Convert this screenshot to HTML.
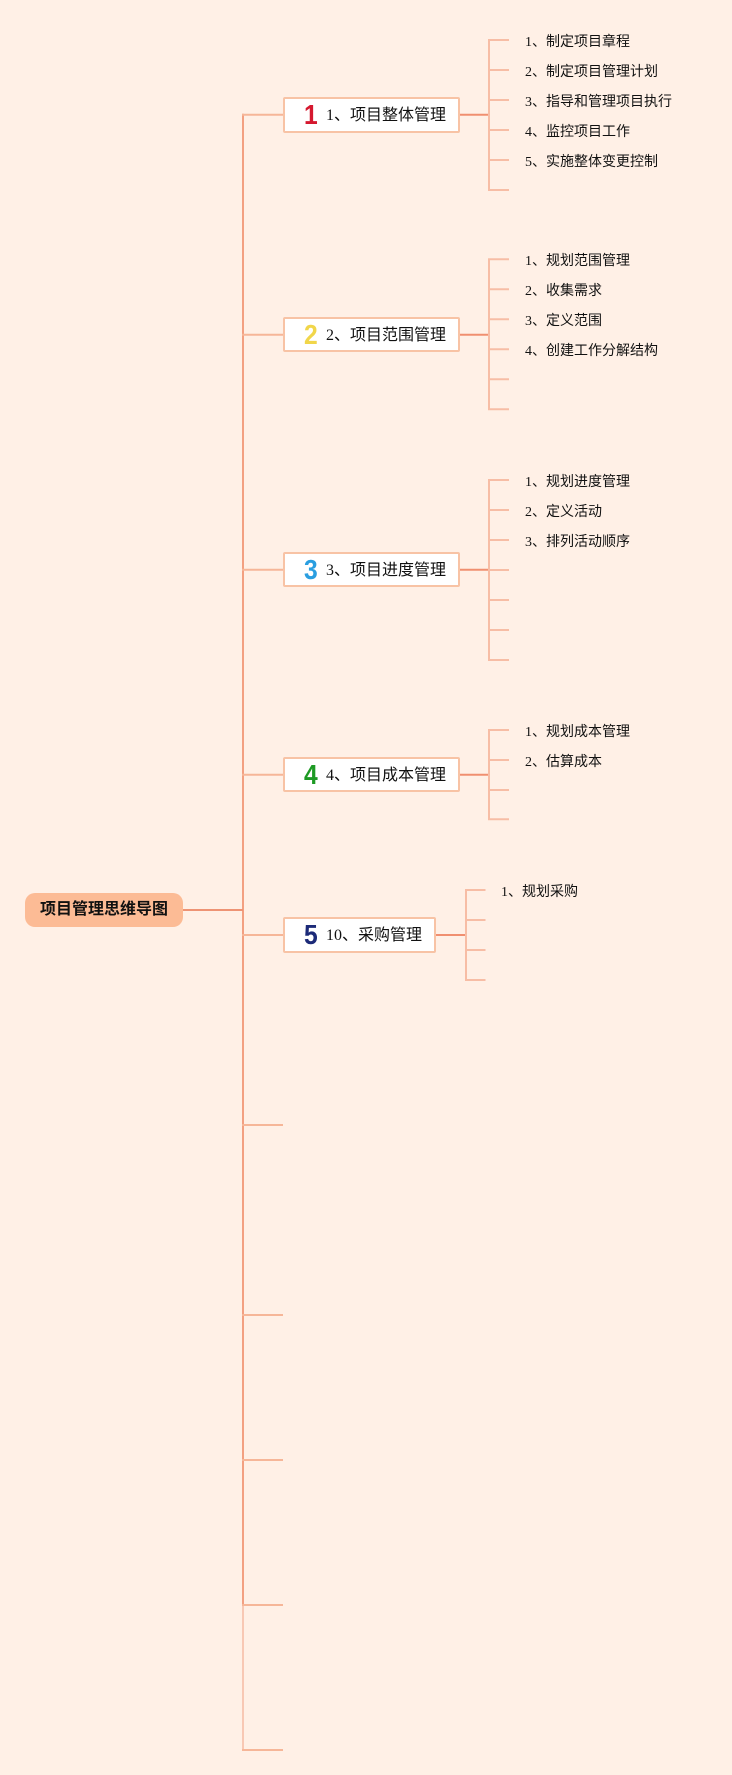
<!DOCTYPE html>
<html>
<head>
<meta charset="utf-8">
<style>
html,body{margin:0;padding:0;}
body{width:732px;height:1775px;background:#fff0e6;position:relative;overflow:hidden;
font-family:"Liberation Serif","Noto Sans CJK SC",sans-serif;}
svg{position:absolute;left:0;top:0;}
.node{position:absolute;left:283px;height:31.4px;background:#fff;border:2px solid #f8c3a5;border-radius:2px;box-sizing:content-box;}
.node .num{position:absolute;left:19px;top:-2px;font-family:"Liberation Sans",sans-serif;font-weight:bold;font-size:28px;line-height:36px;transform:scaleX(0.88);transform-origin:left center;}
.node .t{position:absolute;left:41px;top:0;font-size:16px;line-height:33px;color:#111;white-space:nowrap;}
.c{position:absolute;font-size:14px;line-height:20px;color:#111;white-space:nowrap;}
.root{position:absolute;left:25px;top:893px;width:158px;height:34px;background:#fcbb95;border-radius:10px;
font-family:"Liberation Sans","Noto Sans CJK SC",sans-serif;font-weight:bold;font-size:16px;line-height:34px;text-align:center;color:#111;}
</style>
</head>
<body>
<svg width="732" height="1775" viewBox="0 0 732 1775">
<g fill="none" stroke-linecap="butt">
<line x1="243" y1="113.7" x2="243" y2="1606" stroke="#f3a081" stroke-width="2"/>
<line x1="243" y1="1605" x2="243" y2="1751" stroke="#f7bea7" stroke-width="1.6"/>
<line x1="182" y1="910" x2="243" y2="910" stroke="#ee9374" stroke-width="2"/>
<g stroke="#f6b698" stroke-width="2">
<line x1="242" y1="114.7" x2="283" y2="114.7"/>
<line x1="242" y1="334.7" x2="283" y2="334.7"/>
<line x1="242" y1="569.7" x2="283" y2="569.7"/>
<line x1="242" y1="774.7" x2="283" y2="774.7"/>
<line x1="242" y1="935" x2="283" y2="935"/>
<line x1="242" y1="1125" x2="283" y2="1125"/>
<line x1="242" y1="1315" x2="283" y2="1315"/>
<line x1="242" y1="1460" x2="283" y2="1460"/>
<line x1="242" y1="1605" x2="283" y2="1605"/>
<line x1="242" y1="1750" x2="283" y2="1750"/>
</g>
<g stroke="#f08f70" stroke-width="2">
<line x1="460" y1="114.7" x2="490" y2="114.7"/>
<line x1="460" y1="334.7" x2="490" y2="334.7"/>
<line x1="460" y1="569.7" x2="490" y2="569.7"/>
<line x1="460" y1="774.7" x2="490" y2="774.7"/>
<line x1="436" y1="935" x2="467" y2="935"/>
</g>
<g stroke="#f7bda5" stroke-width="2">
<line x1="489" y1="40" x2="489" y2="190"/>
<line x1="488" y1="40" x2="509" y2="40"/>
<line x1="488" y1="70" x2="509" y2="70"/>
<line x1="488" y1="100" x2="509" y2="100"/>
<line x1="488" y1="130" x2="509" y2="130"/>
<line x1="488" y1="160" x2="509" y2="160"/>
<line x1="488" y1="190" x2="509" y2="190"/>

<line x1="489" y1="259.3" x2="489" y2="409.3"/>
<line x1="488" y1="259.3" x2="509" y2="259.3"/>
<line x1="488" y1="289.3" x2="509" y2="289.3"/>
<line x1="488" y1="319.3" x2="509" y2="319.3"/>
<line x1="488" y1="349.3" x2="509" y2="349.3"/>
<line x1="488" y1="379.3" x2="509" y2="379.3"/>
<line x1="488" y1="409.3" x2="509" y2="409.3"/>

<line x1="489" y1="480" x2="489" y2="660"/>
<line x1="488" y1="480" x2="509" y2="480"/>
<line x1="488" y1="510" x2="509" y2="510"/>
<line x1="488" y1="540" x2="509" y2="540"/>
<line x1="488" y1="570" x2="509" y2="570"/>
<line x1="488" y1="600" x2="509" y2="600"/>
<line x1="488" y1="630" x2="509" y2="630"/>
<line x1="488" y1="660" x2="509" y2="660"/>

<line x1="489" y1="730" x2="489" y2="819.3"/>
<line x1="488" y1="730" x2="509" y2="730"/>
<line x1="488" y1="760" x2="509" y2="760"/>
<line x1="488" y1="790" x2="509" y2="790"/>
<line x1="488" y1="819.3" x2="509" y2="819.3"/>

<line x1="466" y1="890" x2="466" y2="980"/>
<line x1="465" y1="890" x2="485.5" y2="890"/>
<line x1="465" y1="920" x2="485.5" y2="920"/>
<line x1="465" y1="950" x2="485.5" y2="950"/>
<line x1="465" y1="980" x2="485.5" y2="980"/>
</g>
</g>
</svg>

<div class="root">项目管理思维导图</div>

<div class="node" style="top:97.3px;width:173px;"><span class="num" style="color:#d5182f;">1</span><span class="t">1、项目整体管理</span></div>
<div class="node" style="top:317px;width:173px;"><span class="num" style="color:#f1d64a;">2</span><span class="t">2、项目范围管理</span></div>
<div class="node" style="top:552px;width:173px;"><span class="num" style="color:#2a9ee0;">3</span><span class="t">3、项目进度管理</span></div>
<div class="node" style="top:757px;width:173px;"><span class="num" style="color:#1d9a24;">4</span><span class="t">4、项目成本管理</span></div>
<div class="node" style="top:917.3px;width:149px;"><span class="num" style="color:#1c2a78;">5</span><span class="t">10、采购管理</span></div>

<div class="c" style="left:525px;top:33px;">1、制定项目章程</div>
<div class="c" style="left:525px;top:63px;">2、制定项目管理计划</div>
<div class="c" style="left:525px;top:93px;">3、指导和管理项目执行</div>
<div class="c" style="left:525px;top:123px;">4、监控项目工作</div>
<div class="c" style="left:525px;top:153px;">5、实施整体变更控制</div>

<div class="c" style="left:525px;top:252.3px;">1、规划范围管理</div>
<div class="c" style="left:525px;top:282.3px;">2、收集需求</div>
<div class="c" style="left:525px;top:312.3px;">3、定义范围</div>
<div class="c" style="left:525px;top:342.3px;">4、创建工作分解结构</div>

<div class="c" style="left:525px;top:473px;">1、规划进度管理</div>
<div class="c" style="left:525px;top:503px;">2、定义活动</div>
<div class="c" style="left:525px;top:533px;">3、排列活动顺序</div>

<div class="c" style="left:525px;top:723px;">1、规划成本管理</div>
<div class="c" style="left:525px;top:753px;">2、估算成本</div>

<div class="c" style="left:501px;top:883px;">1、规划采购</div>
</body>
</html>
